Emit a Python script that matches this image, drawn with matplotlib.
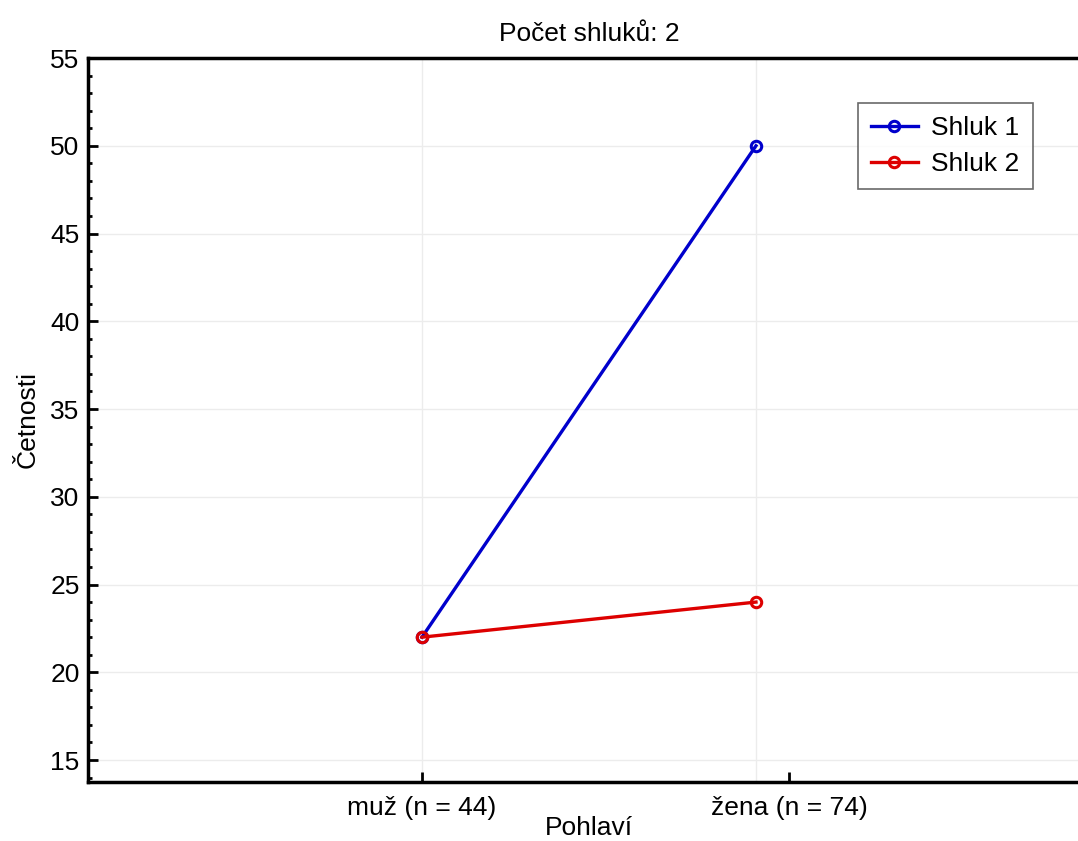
import matplotlib
matplotlib.use("Agg")
import matplotlib.pyplot as plt
from matplotlib.ticker import MultipleLocator

plt.rcParams['font.family'] = ['Liberation Sans', 'DejaVu Sans']

categories = ["muž (n = 44)", "žena (n = 74)"]
shluk_1 = [22, 50]
shluk_2 = [22, 24]
series_names = ["Shluk 1", "Shluk 2"]
yticks = [15, 20, 25, 30, 35, 40, 45, 50, 55]

fig = plt.figure(figsize=(10.78, 8.41), dpi=100)
# right spine sits just past the picture edge, like in the original export
ax = fig.add_axes([0.0816, 0.0702, 0.9295, 0.8608])

x = list(range(len(categories)))
ax.plot(x, shluk_1, color="#0000cc", lw=2.4, marker="o", ms=7.5, mfc="none",
        mew=2.2, label=series_names[0], zorder=3)
ax.plot(x, shluk_2, color="#dd0000", lw=2.4, marker="o", ms=7.5, mfc="none",
        mew=2.2, label=series_names[1], zorder=3)

ax.set_xlim(-1, 2)
ax.set_ylim(13.75, 55)

# grid: horizontal at major y ticks, vertical at the categories
for yv in yticks:
    ax.axhline(yv, color="#ececec", lw=1, zorder=0)
for xv in x:
    ax.axvline(xv, color="#ececec", lw=1, zorder=0)

# tick marks on x are drawn a bit off the data columns in the original
ax.set_xticks([0, 1.1])
ax.set_xticklabels(categories, fontsize=19)
ax.set_yticks(yticks)
ax.set_yticklabels([str(v) for v in yticks], fontsize=19)
ax.yaxis.set_minor_locator(MultipleLocator(1))
ax.tick_params(axis="both", which="major", direction="in", length=7, width=2)
ax.tick_params(axis="x", which="major", pad=10)
ax.tick_params(axis="y", which="major", pad=6)
ax.tick_params(axis="y", which="minor", direction="in", length=3, width=2)
ax.tick_params(axis="x", which="minor", bottom=False)

for side in ["left", "bottom", "top", "right"]:
    ax.spines[side].set_linewidth(2.5)

ax.set_title("Počet shluků: 2", fontsize=19, pad=12)
ax.set_ylabel("Četnosti", fontsize=19, labelpad=8)
ax.set_xlabel("Pohlaví", fontsize=19, labelpad=-3)

leg = ax.legend(loc="upper right", bbox_to_anchor=(0.943, 0.938), fontsize=19,
                frameon=True, fancybox=False, edgecolor="#444444",
                handlelength=1.8, borderpad=0.5, labelspacing=0.45,
                handletextpad=0.5, borderaxespad=0)
leg.get_frame().set_linewidth(1.2)

fig.savefig("out.png", dpi=100)
